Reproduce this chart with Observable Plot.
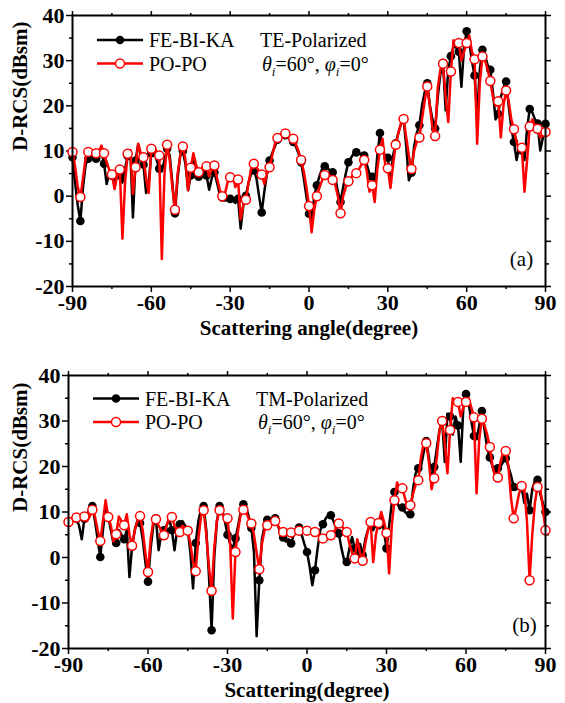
<!DOCTYPE html>
<html><head><meta charset="utf-8">
<script src="https://cdn.jsdelivr.net/npm/d3@7"></script>
<script src="https://cdn.jsdelivr.net/npm/@observablehq/plot@0.6"></script>
<style>
body{margin:0;background:#fff;}
#chart{width:565px;}
#chart svg{display:block;}
</style></head><body><div id="chart"></div>
<script>
// Scattering angle grid (degrees), one value per degree
const angles = d3.range(-90, 91);
const xTicks = [-90, -60, -30, 0, 30, 60, 90];
const xMinor = [-75, -45, -15, 15, 45, 75];
const yTicks = [-20, -10, 0, 10, 20, 30, 40];
const yMinor = [-15, -5, 5, 15, 25, 35];
const seriesNames = ["FE-BI-KA", "PO-PO"];

// (a) TE-Polarized
const teFE = [
  8.6, 3, -2, -5.5, 2, 7, 8.3, 8.5, 8.3, 8.3,
  9, 10, 7.2, 2.7, 5, 4.6, 3.5, 4.5, 4.6, 3,
  6, 8.9, 10, -4.7, 7.9, 11.5, 9, 7.0, 0.7, 3,
  9.5, 10.5, 8, 6.1, 5.5, 8, 10.5, 9, 3, -3.8,
  4, 9, 10.0, 7, 1.3, 4.6, 8, 6, 4.3, 5,
  6, 4.6, 1.4, 4, 5.3, 3, 0.5, -0.3, -1, -0.8,
  -0.6, -1, -1.5, -0.6, -7.2, -2, 0.1, 3, 5, 5.7,
  4, 0, -3.6, 1, 5, 7.9, 9.5, 11, 12.5, 13.2,
  13.5, 13.5, 13.2, 12.6, 12.0, 11, 9.5, 7.5, 4, 0,
  -3.9, -5.8, 0, 2.4, 4.5, 6, 6.6, 6.2, 5.7, 5.3,
  4, 1, -1.3, 2, 5, 7.5, 8.5, 9.5, 9.7, 9.5,
  9.2, 9.0, 7, 5, 4.3, 2, 9, 14.0, 11, 8,
  8.5, 4, 9, 11.7, 14, 16, 17.0, 11, 3.5, 5.2,
  11, 14, 15.7, 20, 23, 25.0, 20, 17, 15.0, 22,
  27, 29.5, 19, 28, 31.0, 33, 33, 32, 24.2, 33,
  36.5, 34, 30, 26.7, 18, 28, 32.4, 31, 29, 28.0,
  23, 17, 18.2, 22, 24, 25.4, 20, 15, 12.0, 8,
  11, 10.1, 8, 15, 19.3, 18.5, 17, 16.1, 10.1, 13,
  16
];
const tePO = [
  9.8, 6.5, 2, -0.2, 4, 8.5, 9.8, 10.2, 9.8, 9.5,
  9.8, 11.2, 9.5, 7.5, 5.8, 4.8, 1.6, 4.5, 5.9, -9.4,
  3, 9.4, 10.2, 0.5, 6.4, 11.6, 9.5, 8.6, 4, 0.7,
  10.5, 11, 9.8, 9.0, -13.9, 5, 11.4, 8, 2, -3.0,
  5, 9, 11.0, 8, 1.3, 6.3, 9.5, 7, 5.3, 6,
  7, 6.6, 4.4, 6, 6.8, 4, 1.5, 0.0, 0.5, 3,
  4.2, 4.5, 2, 3.7, -5.1, -2, -0.8, 3, 6, 7.2,
  6.5, 5.5, 4.8, 2.7, 5, 6.4, 9, 11.5, 12.9, 13.5,
  13.9, 13.9, 13.5, 13, 12.7, 11.5, 10, 8.0, 5.5, 2,
  -2.2, -8.0, -3, 0.0, 2, 3.5, 4.7, 5, 4.5, 3.6,
  2.5, 0, -3.8, 0, 2, 3.3, 4, 5, 5.1, 6,
  7, 8.0, 5.5, 1, 2.4, -1.3, 6, 10.3, 12.7, 7,
  6.2, 1.8, 7, 11.4, 14, 16, 17.1, 13, 9, 6.0,
  10, 12, 13.0, 17, 21, 24.3, 20, 15, 13.3, 24,
  28, 29.3, 22, 16.4, 27.6, 34.5, 34, 33.9, 30, 32,
  33.9, 35.5, 32, 30.3, 11.6, 25, 30.9, 30, 28, 25.5,
  22, 20, 21.0, 13.0, 20, 23.4, 21, 17, 14.8, 12,
  10, 10.7, 1, 8, 15.4, 17, 15.5, 14.9, 13, 13.5,
  14.2
];

// (b) TM-Polarized
const tmFE = [
  7.8, 8.5, 8.8, 8.5, 7, 4, 8.5, 9.5, 10.5, 11.3,
  8, 4, 0.1, 6, 11, 9, 6, 3, 3.2, 6,
  5, 4, 6, -4.3, 2.5, 6, 8, 7.6, 4, -1,
  -5.3, 2, 7, 8.6, 1.6, 5, 6, 7, 8.5, 6,
  1.6, 6, 7.3, 8, 7, 6, 1, -6.8, 3.2, 8,
  10.5, 11.3, 6, -4, -16.0, 0, 8, 11.3, 10.5, 8,
  5, 3, 2, 4.2, 7, 10, 11.7, 11, 9, 6.5,
  1, -17.3, -5, 4, 7, 8.3, 8, 8, 8.6, 7,
  5.5, 4.4, 3.5, 4, 3.1, 5, 6, 6.6, 5, 3,
  1.2, -2, -6.1, -2.8, 2, 6, 7.3, 8.5, 9.3, 9.3,
  8, 6.5, 5.3, 2, -0.5, -1.0, 2, 4.5, 2, 0.5,
  3, 0.5, 4, 6, 7.8, 6, 8, 7.1, 9, 6,
  2.0, 7, 12, 14.4, 12, 10.8, 11, 10, 9.5, 9.5,
  15, 18.5, 19.6, 20, 23, 25.6, 22, 17, 19.9, 24,
  28, 30, 21, 31.6, 31, 27, 31, 29, 21.0, 33,
  35.9, 34, 30, 26.7, 26, 29, 32.2, 28, 24, 22,
  20, 18, 19.6, 20, 21, 21.8, 20, 18, 15.5, 15,
  15.5, 15.5, 12, 14, 10.4, 15, 16.8, 17.1, 14, 12,
  10
];
const tmPO = [
  7.8, 8.5, 9, 8.8, 8.5, 9, 9.0, 8, 9, 10.5,
  9, 6, 3.6, 8, 12.6, 8.9, 7, 3.5, 5.1, 9,
  8, 7.1, 9.5, 5, 2.6, 6, 8, 9.1, 6, 1,
  -3.2, 4, 8, 8.4, 7, 6, 4.9, 7, 8.5, 8.9,
  7, 6, 5.6, 7, 6.5, 5.9, 3, -1, -3.0, 4,
  9, 10.4, 5, -2, -7.3, 2, 8, 10.4, 9.5, 9,
  8.6, 3, -13.4, 1.2, 6, 9.5, 10.5, 10, 8.5, 7.5,
  5, 1, -2.6, 3, 6, 7.1, 8, 8.3, 8.0, 7,
  6, 5.6, 5.5, 5.5, 5.5, 5.6, 5.8, 5.9, 6, 6,
  5.9, 5.8, 5.7, 5.6, 5, 4.5, 4.2, 4.5, 4.8, 4.9,
  5.5, 6.5, 7.5, 7, 6.2, 5.6, 3, 1, -0.2, 4,
  1, -0.7, 3, 6, 7.8, -1, 5, 7.6, 10, 8,
  5.4, -3.5, 7, 12.6, 16.5, 15, 15.2, 13, 11, 11.5,
  14, 16, 17.0, 22, 25, 25.1, 21, 15, 17.4, 22,
  28, 30.0, 25, 18.5, 28.0, 35, 34, 34.2, 31, 33,
  34.2, 35, 33, 30.8, 14.1, 26, 30.5, 29, 27, 24.3,
  20, 18, 17.6, 21, 23, 23.4, 20, 13, 8.6, 11,
  14, 15.7, 15, 8, -5.0, 5, 12, 15.5, 15, 11,
  6.0
];

const FONT = "'Liberation Serif', 'Times New Roman', serif";
const fmt = d => d < 0 ? "-" + Math.abs(d) : String(d);
const blank = () => "";

function panel(cfg) {
  const fe = angles.map((a, i) => ({a, v: cfg.fe[i]}));
  const po = angles.map((a, i) => ({a, v: cfg.po[i]}));
  const withMarker = d => d.a % 3 === 0;
  const tickOpts = {stroke: "black", strokeWidth: 1.5, label: null};
  const svg = Plot.plot({
    width: 565, height: cfg.height,
    marginLeft: cfg.ml, marginRight: 20, marginTop: 15, marginBottom: cfg.mb,
    style: {fontFamily: FONT, fontSize: "22px", fontWeight: "bold", color: "black", background: "white", overflow: "visible"},
    x: {domain: [-90, 90]},
    y: {domain: [-20, 40]},
    marks: [
      Plot.axisX({...tickOpts, ticks: xTicks, tickSize: 6, tickPadding: 2, tickFormat: fmt, fontSize: 22, fontWeight: "bold", fontFamily: FONT}),
      Plot.axisX({...tickOpts, ticks: xMinor, tickSize: 3, tickFormat: blank}),
      Plot.axisX({...tickOpts, anchor: "top", ticks: xTicks, tickSize: 5, tickFormat: blank}),
      Plot.axisX({...tickOpts, anchor: "top", ticks: xMinor, tickSize: 3, tickFormat: blank}),
      Plot.axisY({...tickOpts, ticks: yTicks, tickSize: 6, tickPadding: 2, tickFormat: fmt, fontSize: 22, fontWeight: "bold", fontFamily: FONT}),
      Plot.axisY({...tickOpts, ticks: yMinor, tickSize: 3, tickFormat: blank}),
      Plot.axisY({...tickOpts, anchor: "right", ticks: yTicks, tickSize: 5, tickFormat: blank}),
      Plot.axisY({...tickOpts, anchor: "right", ticks: yMinor, tickSize: 3, tickFormat: blank}),
      Plot.line(fe, {x: "a", y: "v", stroke: "black", strokeWidth: 2.5}),
      Plot.dot(fe, {filter: withMarker, x: "a", y: "v", r: 4.3, fill: "black", stroke: "none"}),
      Plot.line(po, {x: "a", y: "v", stroke: "#ff0000", strokeWidth: 2.5}),
      Plot.dot(po, {filter: withMarker, x: "a", y: "v", r: 4.5, fill: "white", stroke: "#ff0000", strokeWidth: 1.5}),
      Plot.frame({stroke: "black", strokeWidth: 2}),
      Plot.text([cfg.xLabel], {frameAnchor: "bottom", dy: 42, lineAnchor: "middle", fontSize: 21, fontWeight: "bold", fontFamily: FONT}),
      Plot.text(["D-RCS(dBsm)"], {frameAnchor: "left", dx: cfg.ytDx, rotate: -90, fontSize: 21, fontWeight: "bold", fontFamily: FONT}),
      Plot.text([cfg.tag], {frameAnchor: "bottom-right", dx: cfg.tagDx, dy: cfg.tagDy, lineAnchor: "middle", textAnchor: "middle", fontSize: 21, fontWeight: "normal", fontFamily: FONT})
    ]
  });

  // legend and annotation
  const g = d3.select(svg).append("g")
    .attr("font-family", FONT).attr("font-weight", "normal").attr("font-size", 20)
    .attr("fill", "black").attr("text-anchor", "start");
  const lx = cfg.ml;
  const rows = [
    {name: seriesNames[0], color: "black", fill: "black", y: cfg.ly0, r: 4.3, sw: 0},
    {name: seriesNames[1], color: "#ff0000", fill: "white", y: cfg.ly1, r: 4.5, sw: 1.5}
  ];
  rows.forEach(rw => {
    g.append("line").attr("x1", lx + 25).attr("x2", lx + 71).attr("y1", rw.y).attr("y2", rw.y)
      .attr("stroke", rw.color).attr("stroke-width", 2.5);
    g.append("circle").attr("cx", lx + 48).attr("cy", rw.y).attr("r", rw.r)
      .attr("fill", rw.fill).attr("stroke", rw.sw ? rw.color : "none").attr("stroke-width", rw.sw);
    g.append("text").attr("x", lx + 77).attr("y", rw.y + 7).text(rw.name);
  });
  g.append("text").attr("x", lx + 188).attr("y", cfg.ly0 + 7).text(cfg.pol);
  const t = g.append("text").attr("x", lx + 190).attr("y", cfg.ly1 + 7);
  t.append("tspan").attr("font-style", "italic").text("θ");
  t.append("tspan").attr("font-style", "italic").attr("font-size", 13).attr("dy", 5).text("i");
  t.append("tspan").attr("dy", -5).text("=60°, ");
  t.append("tspan").attr("font-style", "italic").text("φ");
  t.append("tspan").attr("font-style", "italic").attr("font-size", 13).attr("dy", 5).text("i");
  t.append("tspan").attr("dy", -5).text("=0°");
  return svg;
}

const chart = document.getElementById("chart");
chart.append(panel({fe: teFE, po: tePO, height: 360, ml: 72, mb: 74, xLabel: "Scattering angle(degree)",
  pol: "TE-Polarized", tag: "(a)", tagDx: -24, tagDy: -27, ytDx: -52, ly0: 40, ly1: 63.5}));
chart.append(panel({fe: tmFE, po: tmPO, height: 343, ml: 68, mb: 55, xLabel: "Scattering(degree)",
  pol: "TM-Polarized", tag: "(b)", tagDx: -21, tagDy: -23, ytDx: -48, ly0: 38.5, ly1: 62}));
</script>
</body></html>
